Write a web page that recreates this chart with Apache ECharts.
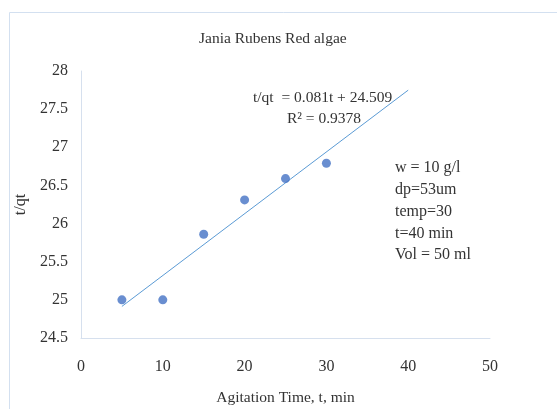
<!DOCTYPE html>
<html>
<head>
<meta charset="utf-8">
<script src="https://cdn.jsdelivr.net/npm/echarts@6/dist/echarts.min.js"></script>
<style>
  html, body { margin: 0; padding: 0; background: #fff; }
  #chart { width: 557px; height: 409px; }
</style>
</head>
<body>
<div id="chart"></div>
<script>
// Agitation time (min) and measured t/qt
const agitationTime = [5, 10, 15, 20, 25, 30];
const tOverQt = [25.0, 25.0, 25.86, 26.31, 26.59, 26.79];

// Linear fit reported on the chart
const fitSlope = 0.081;
const fitIntercept = 24.509;
const fitRange = [5, 40];

const yTicks = ['24.5', '25', '25.5', '26', '26.5', '27', '27.5', '28'];
const conditions = ['w = 10 g/l', 'dp=53um', 'temp=30', 't=40 min', 'Vol = 50 ml'];

const serif = 'Liberation Serif';
const textColor = '#333333';

const points = agitationTime.map((t, i) => [t, tOverQt[i]]);
const fitLine = fitRange.map(t => [t, +(fitSlope * t + fitIntercept).toFixed(4)]);

const chart = echarts.init(document.getElementById('chart'), null, { renderer: 'canvas' });
chart.setOption({
  backgroundColor: '#fff',
  animation: false,
  title: {
    text: 'Jania Rubens Red algae',
    left: 194,
    top: 26,
    textStyle: { fontFamily: serif, fontSize: 15.5, fontWeight: 'normal', color: textColor }
  },
  grid: { left: 81, right: 67, top: 71, bottom: 71, outerBoundsMode: 'none', containLabel: false },
  xAxis: {
    type: 'value',
    min: 0, max: 50, interval: 10,
    name: 'Agitation Time, t, min',
    nameLocation: 'middle',
    nameGap: 52,
    nameTextStyle: { fontFamily: serif, fontSize: 15.5, color: textColor },
    axisLine: { show: true, lineStyle: { color: '#D6E0EE', width: 1 } },
    axisTick: { show: false },
    splitLine: { show: false },
    axisLabel: { fontFamily: serif, fontSize: 16, color: textColor, margin: 21 }
  },
  yAxis: {
    type: 'value',
    min: 24.5, max: 28, interval: 0.5,
    name: 't/qt',
    nameLocation: 'middle',
    nameGap: 48,
    nameRotate: 90,
    nameTextStyle: { fontFamily: serif, fontSize: 16, color: textColor },
    axisLine: { show: true, lineStyle: { color: '#D6E0EE', width: 1 } },
    axisTick: { show: false },
    splitLine: { show: false },
    axisLabel: {
      fontFamily: serif, fontSize: 16, color: textColor, margin: 13,
      formatter: v => yTicks.find(s => Math.abs(parseFloat(s) - v) < 1e-6) || ''
    }
  },
  graphic: [
    {
      type: 'rect', silent: true, z: -10,
      shape: { x: 9.5, y: 12.5, width: 600, height: 450 },
      style: { fill: 'none', stroke: '#D3E0F0', lineWidth: 1 }
    },
    {
      type: 'text', left: 253, top: 90,
      style: { text: 't/qt  = 0.081t + 24.509', fontFamily: serif, fontSize: 15.5, fill: textColor }
    },
    {
      type: 'text', left: 287, top: 111,
      style: { text: 'R² = 0.9378', fontFamily: serif, fontSize: 15.5, fill: textColor }
    },
    {
      type: 'text', left: 395, top: 157,
      style: { text: conditions.join('\n'), fontFamily: serif, fontSize: 16, fill: textColor, lineHeight: 21.8 }
    }
  ],
  series: [
    {
      type: 'line',
      data: fitLine,
      showSymbol: false,
      lineStyle: { color: '#5B9BD5', width: 1 },
      z: 2
    },
    {
      type: 'scatter',
      data: points,
      symbolSize: 9,
      itemStyle: { color: '#4472C4' },
      z: 3
    }
  ]
});
</script>
</body>
</html>
